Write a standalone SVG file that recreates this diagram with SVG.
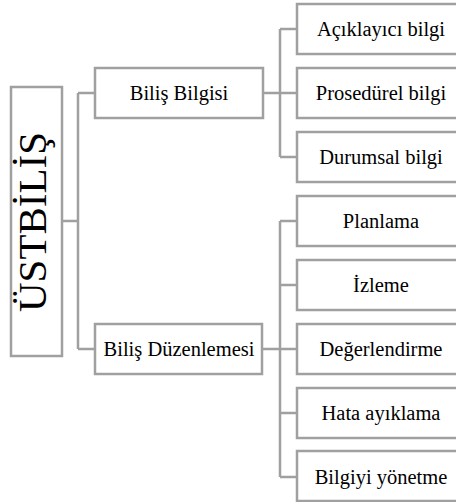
<svg xmlns="http://www.w3.org/2000/svg" width="456" height="502" viewBox="0 0 456 502">
<style>
.box{fill:#fff;stroke:#a0a0a0;stroke-width:2.5}
.con{fill:none;stroke:#a0a0a0;stroke-width:2.5}
</style>
<rect width="456" height="502" fill="#fff"/>
<g id="connectors">
<path class="con" d="M62,221H78M78,93V349M78,93H95M78,349H95"/>
<path class="con" d="M263,93H280M280,29V157M280,29H297M280,93H297M280,157H297"/>
<path class="con" d="M262,349H280M280,221V477M280,221H297M280,285H297M280,349H297M280,413H297M280,477H297"/>
</g>
<g font-family="Liberation Serif, serif" font-size="20.5" text-anchor="middle" fill="#000">
<g id="root">
<rect class="box" x="11" y="87" width="51" height="269"/>
<text font-size="41" transform="translate(46,222) rotate(-90)">ÜSTBİLİŞ</text>
</g>
<g id="bilis-bilgisi">
<rect class="box" x="95" y="68" width="168" height="50"/>
<text x="179" y="100">Biliş Bilgisi</text>
</g>
<g id="bilis-duzenlemesi">
<rect class="box" x="95" y="324" width="167" height="50"/>
<text x="179" y="356">Biliş Düzenlemesi</text>
</g>
<g id="aciklayici">
<rect class="box" x="297" y="4" width="170" height="50"/>
<text x="381" y="36">Açıklayıcı bilgi</text>
</g>
<g id="prosedurel">
<rect class="box" x="297" y="68" width="170" height="50"/>
<text x="381" y="100">Prosedürel bilgi</text>
</g>
<g id="durumsal">
<rect class="box" x="297" y="132" width="170" height="50"/>
<text x="381" y="164">Durumsal bilgi</text>
</g>
<g id="planlama">
<rect class="box" x="297" y="196" width="170" height="50"/>
<text x="381" y="228">Planlama</text>
</g>
<g id="izleme">
<rect class="box" x="297" y="260" width="170" height="50"/>
<text x="381" y="292">İzleme</text>
</g>
<g id="degerlendirme">
<rect class="box" x="297" y="324" width="170" height="50"/>
<text x="381" y="356">Değerlendirme</text>
</g>
<g id="hata">
<rect class="box" x="297" y="388" width="170" height="50"/>
<text x="381" y="420">Hata ayıklama</text>
</g>
<g id="bilgiyi">
<rect class="box" x="297" y="451" width="170" height="50"/>
<text x="381" y="484">Bilgiyi yönetme</text>
</g>
</g>
</svg>
